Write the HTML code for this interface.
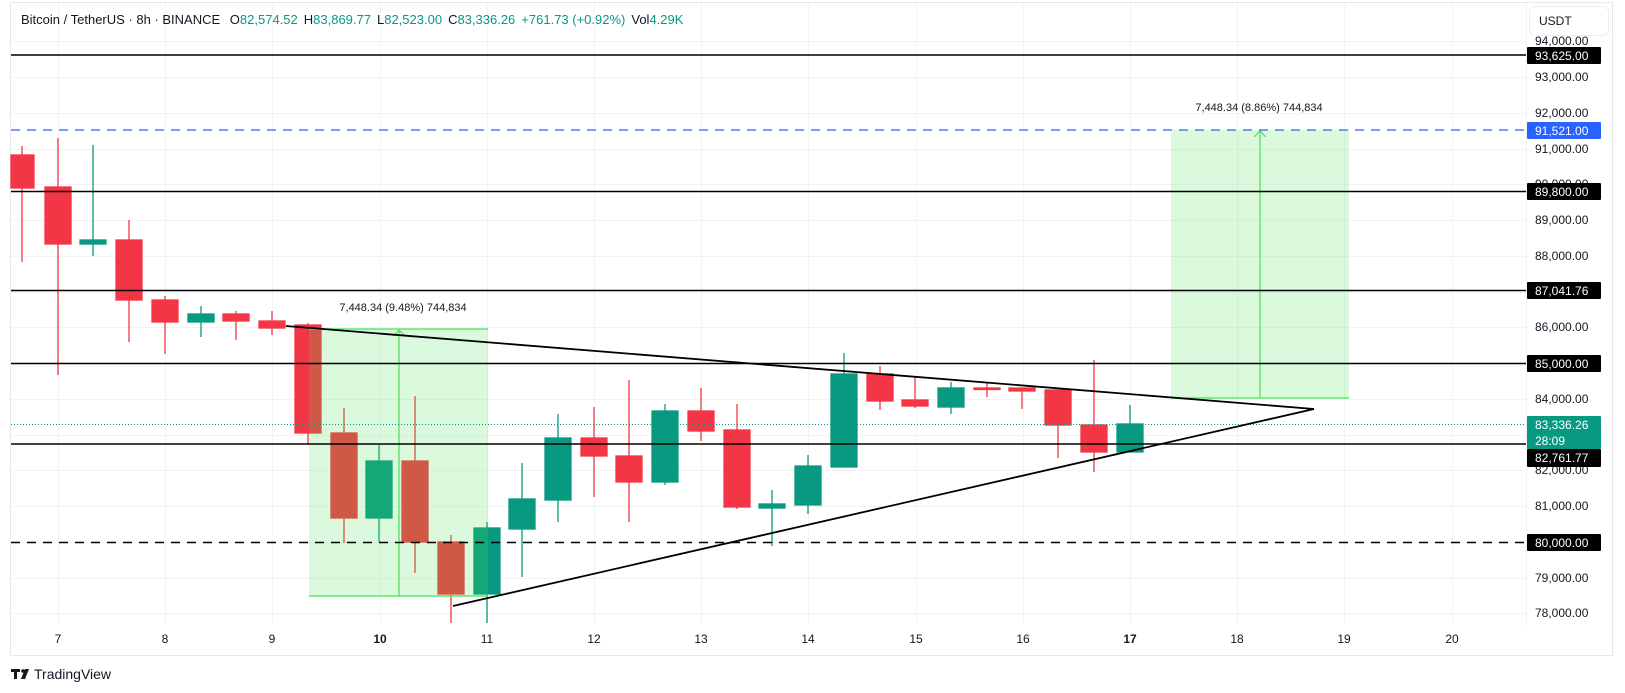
<!DOCTYPE html>
<html><head><meta charset="utf-8"><style>
html,body{margin:0;padding:0;background:#fff;}
svg{display:block;font-family:"Liberation Sans",sans-serif;}
</style></head><body>
<svg width="1625" height="693" viewBox="0 0 1625 693" xmlns="http://www.w3.org/2000/svg">
<rect x="0" y="0" width="1625" height="693" fill="#fff"/>
<rect x="10.5" y="2.5" width="1602" height="653" fill="none" stroke="#e6e8ee"/>
<line x1="1526.5" y1="3" x2="1526.5" y2="625" stroke="#f0f1f4"/>
<!-- grid -->
<g stroke="#f2f3f5" stroke-width="1">
<line x1="11" x2="1526" y1="41.5" y2="41.5"/><line x1="11" x2="1526" y1="77.5" y2="77.5"/><line x1="11" x2="1526" y1="113.5" y2="113.5"/><line x1="11" x2="1526" y1="149.5" y2="149.5"/><line x1="11" x2="1526" y1="184.5" y2="184.5"/><line x1="11" x2="1526" y1="220.5" y2="220.5"/><line x1="11" x2="1526" y1="256.5" y2="256.5"/><line x1="11" x2="1526" y1="292.5" y2="292.5"/><line x1="11" x2="1526" y1="327.5" y2="327.5"/><line x1="11" x2="1526" y1="363.5" y2="363.5"/><line x1="11" x2="1526" y1="399.5" y2="399.5"/><line x1="11" x2="1526" y1="435.5" y2="435.5"/><line x1="11" x2="1526" y1="470.5" y2="470.5"/><line x1="11" x2="1526" y1="506.5" y2="506.5"/><line x1="11" x2="1526" y1="542.5" y2="542.5"/><line x1="11" x2="1526" y1="578.5" y2="578.5"/><line x1="11" x2="1526" y1="613.5" y2="613.5"/>
<line y1="3" y2="625" x1="58.5" x2="58.5"/><line y1="3" y2="625" x1="165.5" x2="165.5"/><line y1="3" y2="625" x1="272.5" x2="272.5"/><line y1="3" y2="625" x1="380.5" x2="380.5"/><line y1="3" y2="625" x1="487.5" x2="487.5"/><line y1="3" y2="625" x1="594.5" x2="594.5"/><line y1="3" y2="625" x1="701.5" x2="701.5"/><line y1="3" y2="625" x1="808.5" x2="808.5"/><line y1="3" y2="625" x1="916.5" x2="916.5"/><line y1="3" y2="625" x1="1023.5" x2="1023.5"/><line y1="3" y2="625" x1="1130.5" x2="1130.5"/><line y1="3" y2="625" x1="1237.5" x2="1237.5"/><line y1="3" y2="625" x1="1344.5" x2="1344.5"/><line y1="3" y2="625" x1="1452.5" x2="1452.5"/>
</g>
<!-- candles -->
<g stroke-width="1.3">
<g stroke="#f23645" fill="#f23645">
<line x1="22" x2="22" y1="146" y2="262"/><rect x="11" y="155" width="23" height="33"/>
<line x1="58" x2="58" y1="138" y2="375"/><rect x="45" y="187" width="26" height="57"/>
<line x1="129" x2="129" y1="220" y2="342"/><rect x="116" y="240" width="26" height="60"/>
<line x1="165" x2="165" y1="296" y2="354"/><rect x="152" y="300" width="26" height="22"/>
<line x1="236" x2="236" y1="311" y2="340"/><rect x="223" y="314" width="26" height="7"/>
<line x1="272" x2="272" y1="311" y2="335"/><rect x="259" y="321" width="26" height="7"/>
<line x1="308" x2="308" y1="323" y2="445"/><rect x="295" y="325" width="26" height="108"/>
<line x1="344" x2="344" y1="408" y2="543"/><rect x="331" y="433" width="26" height="85"/>
<line x1="415" x2="415" y1="396" y2="573"/><rect x="402" y="461" width="26" height="81"/>
<line x1="451" x2="451" y1="535" y2="623"/><rect x="438" y="542" width="26" height="52"/>
<line x1="594" x2="594" y1="407" y2="497"/><rect x="581" y="438" width="26" height="18"/>
<line x1="629" x2="629" y1="380" y2="522"/><rect x="616" y="456" width="26" height="26"/>
<line x1="701" x2="701" y1="388" y2="441"/><rect x="688" y="411" width="26" height="20"/>
<line x1="737" x2="737" y1="404" y2="509"/><rect x="724" y="430" width="26" height="77"/>
<line x1="880" x2="880" y1="366" y2="410"/><rect x="867" y="374" width="26" height="27"/>
<line x1="915" x2="915" y1="377" y2="408"/><rect x="902" y="400" width="26" height="6"/>
<line x1="987" x2="987" y1="382" y2="397"/><rect x="974" y="388" width="26" height="1.5"/>
<line x1="1022" x2="1022" y1="388" y2="409"/><rect x="1009" y="388" width="26" height="3"/>
<line x1="1058" x2="1058" y1="390" y2="458"/><rect x="1045" y="390" width="26" height="35"/>
<line x1="1094" x2="1094" y1="360" y2="472"/><rect x="1081" y="425" width="26" height="27"/>
</g>
<g stroke="#089981" fill="#089981">
<line x1="93" x2="93" y1="145" y2="256"/><rect x="80" y="240" width="26" height="4"/>
<line x1="201" x2="201" y1="306" y2="337"/><rect x="188" y="314" width="26" height="8"/>
<line x1="379" x2="379" y1="445" y2="542"/><rect x="366" y="461" width="26" height="57"/>
<line x1="487" x2="487" y1="522" y2="623"/><rect x="474" y="528" width="26" height="66"/>
<line x1="522" x2="522" y1="463" y2="577"/><rect x="509" y="499" width="26" height="30"/>
<line x1="558" x2="558" y1="414" y2="522"/><rect x="545" y="438" width="26" height="62"/>
<line x1="665" x2="665" y1="404" y2="485"/><rect x="652" y="411" width="26" height="71"/>
<line x1="772" x2="772" y1="490" y2="546"/><rect x="759" y="504" width="26" height="4"/>
<line x1="808" x2="808" y1="455" y2="514"/><rect x="795" y="466" width="26" height="39"/>
<line x1="844" x2="844" y1="353" y2="467"/><rect x="831" y="374" width="26" height="93"/>
<line x1="951" x2="951" y1="382" y2="414"/><rect x="938" y="388" width="26" height="19"/>
<line x1="1130" x2="1130" y1="405" y2="452"/><rect x="1117" y="424" width="26" height="28"/>
</g>
</g>
<!-- boxes -->
<rect x="309" y="329" width="179" height="267" fill="rgba(76,224,80,0.2)"/>
<line x1="309" x2="488" y1="329" y2="329" stroke="#5ee86a" stroke-width="1.5"/>
<line x1="309" x2="488" y1="596" y2="596" stroke="#5ee86a" stroke-width="1.5"/>
<line x1="399" x2="399" y1="330" y2="596" stroke="#4ee050" stroke-width="1.2"/>
<polyline points="393,336 399,330 405,336" fill="none" stroke="#4ee050" stroke-width="1.2"/>
<text x="403" y="311" font-size="11" fill="#131722" text-anchor="middle">7,448.34 (9.48%) 744,834</text>
<rect x="1171" y="130" width="178" height="268" fill="rgba(76,224,80,0.2)"/>
<line x1="1171" x2="1349" y1="398" y2="398" stroke="#5ee86a" stroke-width="1.5"/>
<line x1="1260" x2="1260" y1="131" y2="398" stroke="#4ee050" stroke-width="1.2"/>
<polyline points="1254,137 1260,131 1266,137" fill="none" stroke="#4ee050" stroke-width="1.2"/>
<text x="1259" y="111" font-size="11" fill="#131722" text-anchor="middle">7,448.34 (8.86%) 744,834</text>
<!-- horizontal levels -->
<g stroke="#000" stroke-width="1.6">
<line x1="11" x2="1526" y1="55" y2="55"/>
<line x1="11" x2="1526" y1="191.5" y2="191.5"/>
<line x1="11" x2="1526" y1="290.5" y2="290.5"/>
<line x1="11" x2="1526" y1="363.5" y2="363.5"/>
<line x1="11" x2="1526" y1="444" y2="444"/>
<line x1="11" x2="1526" y1="542.5" y2="542.5" stroke-dasharray="9 7"/>
</g>
<line x1="11" x2="1526" y1="130" y2="130" stroke="#2962ff" stroke-width="1.3" stroke-dasharray="9 7"/>
<line x1="11" x2="1526" y1="424.5" y2="424.5" stroke="#089981" stroke-width="1" stroke-dasharray="1 2"/>
<!-- triangle -->
<line x1="286" y1="326" x2="1314" y2="409" stroke="#000" stroke-width="1.8"/>
<line x1="453" y1="606" x2="1314" y2="409" stroke="#000" stroke-width="1.8"/>
<!-- price axis -->
<g font-size="12" fill="#131722">
<text x="1535" y="45">94,000.00</text>
<text x="1535" y="81">93,000.00</text>
<text x="1535" y="117">92,000.00</text>
<text x="1535" y="153">91,000.00</text>
<text x="1535" y="188">90,000.00</text>
<text x="1535" y="224">89,000.00</text>
<text x="1535" y="260">88,000.00</text>
<text x="1535" y="331">86,000.00</text>
<text x="1535" y="403">84,000.00</text>
<text x="1535" y="474">82,000.00</text>
<text x="1535" y="510">81,000.00</text>
<text x="1535" y="582">79,000.00</text>
<text x="1535" y="617">78,000.00</text>
</g>
<g font-size="12" fill="#fff">
<rect x="1527" y="47" width="74" height="17" fill="#000" rx="1"/><text x="1535" y="60">93,625.00</text>
<rect x="1527" y="122" width="74" height="17" fill="#2962ff" rx="1"/><text x="1535" y="135">91,521.00</text>
<rect x="1527" y="183" width="74" height="17" fill="#000" rx="1"/><text x="1535" y="196">89,800.00</text>
<rect x="1527" y="282" width="74" height="17" fill="#000" rx="1"/><text x="1535" y="295">87,041.76</text>
<rect x="1527" y="355" width="74" height="17" fill="#000" rx="1"/><text x="1535" y="368">85,000.00</text>
<rect x="1527" y="416" width="74" height="33" fill="#089981" rx="1"/><text x="1535" y="429">83,336.26</text><text x="1535" y="445">28:09</text>
<rect x="1527" y="449" width="74" height="18" fill="#000" rx="1"/><text x="1535" y="462">82,761.77</text>
<rect x="1527" y="534" width="74" height="17" fill="#000" rx="1"/><text x="1535" y="547">80,000.00</text>
</g>
<rect x="1529.5" y="6.5" width="79" height="29" rx="5" fill="#fff" stroke="#eceef2"/>
<text x="1539" y="25" font-size="12" fill="#131722">USDT</text>
<!-- time axis -->
<g font-size="12" fill="#131722" text-anchor="middle">
<text x="58" y="643">7</text><text x="165" y="643">8</text><text x="272" y="643">9</text>
<text x="380" y="643" font-weight="bold">10</text><text x="487" y="643">11</text><text x="594" y="643">12</text>
<text x="701" y="643">13</text><text x="808" y="643">14</text><text x="916" y="643">15</text>
<text x="1023" y="643">16</text><text x="1130" y="643" font-weight="bold">17</text><text x="1237" y="643">18</text>
<text x="1344" y="643">19</text><text x="1452" y="643">20</text>
</g>
<!-- header -->
<text x="21" y="24" font-size="13" fill="#131722">Bitcoin / TetherUS · 8h · BINANCE <tspan dx="6">O</tspan><tspan fill="#089981">82,574.52</tspan><tspan dx="6">H</tspan><tspan fill="#089981">83,869.77</tspan><tspan dx="6">L</tspan><tspan fill="#089981">82,523.00</tspan><tspan dx="6">C</tspan><tspan fill="#089981">83,336.26</tspan><tspan dx="6" fill="#089981">+761.73 (+0.92%)</tspan><tspan dx="6">Vol</tspan><tspan fill="#089981">4.29K</tspan></text>
<!-- logo -->
<g fill="#131722">
<rect x="11" y="669" width="9" height="3"/><rect x="14" y="669" width="3" height="10"/>
<circle cx="23" cy="671" r="1.8"/><polygon points="25,669 29,669 25,679 21,679"/>
</g>
<text x="34" y="679" font-size="14" fill="#131722">TradingView</text>
</svg>
</body></html>
